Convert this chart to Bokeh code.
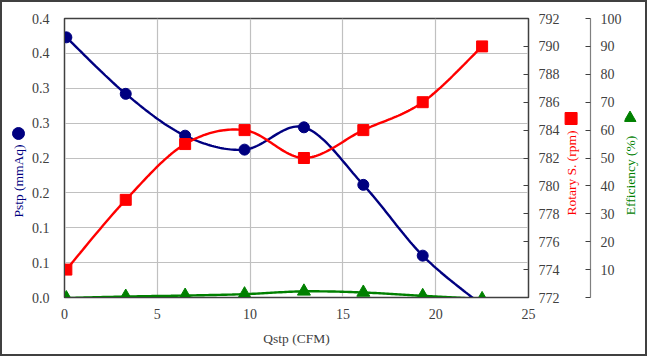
import numpy as np
from bokeh.plotting import figure
from bokeh.layouts import row
from bokeh.models import Range1d, LinearAxis, FixedTicker
from bokeh.core.properties import value
from bokeh.embed import file_html
from bokeh.resources import INLINE

# ---- data ----
qstp = [0.1, 3.3, 6.5, 9.7, 12.9, 16.1, 19.3, 22.5]
pstp = [0.373, 0.292, 0.232, 0.212, 0.244, 0.1615, 0.060, -0.011]
rpm = [774.0, 779.0, 783.0, 784.0, 782.0, 784.0, 786.0, 790.0]
eff = [-0.2, 0.35, 0.7, 1.2, 2.2, 1.8, 0.6, -0.5]

x_ticks = [0, 5, 10, 15, 20, 25]
p_ticks = [0.0, 0.05, 0.1, 0.15, 0.2, 0.25, 0.3, 0.35, 0.4]
p_tick_labels = ["0.0", "0.1", "0.1", "0.2", "0.2", "0.3", "0.3", "0.4", "0.4"]
rpm_ticks = [772, 774, 776, 778, 780, 782, 784, 786, 788, 790, 792]
eff_ticks = [0, 10, 20, 30, 40, 50, 60, 70, 80, 90, 100]
eff_tick_labels = ["", "10", "20", "30", "40", "50", "60", "70", "80", "90", "100"]

x_title = "Qstp (CFM)"
p_title = "Pstp (mmAq)"
rpm_title = "Rotary S. (rpm)"
eff_title = "Efficiency (%)"

FONT = "Liberation Serif"
TICK_COLOR = "#404040"
NAVY = "#000080"
RED = "#ff0000"
GREEN = "#008000"

# ---- layout constants (pixels) ----
H = 352
TOP = 16
BOT = 57
FH = H - TOP - BOT          # frame height


def smooth(xs, ys, n=30):
    """Bezier (Catmull-Rom style) smoothing through the given points."""
    x = np.asarray(xs, float)
    y = np.asarray(ys, float)
    px = np.concatenate([[x[0]], x, [x[-1]]])
    py = np.concatenate([[y[0]], y, [y[-1]]])
    t = np.linspace(0.0, 1.0, n)
    ox, oy = [], []
    for i in range(len(x) - 1):
        x0, x1, x2, x3 = px[i], px[i + 1], px[i + 2], px[i + 3]
        y0, y1, y2, y3 = py[i], py[i + 1], py[i + 2], py[i + 3]
        c1x, c1y = x1 + (x2 - x0) / 6.0, y1 + (y2 - y0) / 6.0
        c2x, c2y = x2 - (x3 - x1) / 6.0, y2 - (y3 - y1) / 6.0
        a = (1 - t) ** 3
        b = 3 * (1 - t) ** 2 * t
        c = 3 * (1 - t) * t ** 2
        d = t ** 3
        seg_x = a * x1 + b * c1x + c * c2x + d * x2
        seg_y = a * y1 + b * c1y + c * c2y + d * y2
        if i > 0:
            seg_x, seg_y = seg_x[1:], seg_y[1:]
        ox.extend(seg_x.tolist())
        oy.extend(seg_y.tolist())
    return ox, oy


def style_axis(ax, standoff, tick_in):
    ax.major_label_text_font = FONT
    ax.major_label_text_font_size = "14px"
    ax.major_label_text_color = TICK_COLOR
    ax.major_label_standoff = standoff
    ax.major_tick_in = tick_in
    ax.major_tick_out = 0
    ax.major_tick_line_color = "#404040"
    ax.minor_tick_line_color = None
    ax.axis_line_color = "#404040"
    ax.axis_label_text_font = FONT
    ax.axis_label_text_font_size = "13.5px"
    ax.axis_label_text_font_style = "normal"


def side_fig(width, border_right=0):
    """Narrow panel (same frame height as the chart) holding an axis title and its symbol."""
    f = figure(width=width, height=H, output_backend="svg", toolbar_location=None,
               x_range=Range1d(0, width - border_right), y_range=Range1d(0, FH),
               x_axis_location=None, y_axis_location=None,
               min_border_left=0, min_border_right=border_right,
               min_border_top=TOP, min_border_bottom=BOT)
    for g in f.grid:
        g.visible = False
    f.outline_line_color = None
    f.background_fill_color = "white"
    f.border_fill_color = "white"
    return f


def side_title(f, x, y, text, color):
    f.text(x=[x], y=[y], text=[text], angle=np.pi / 2, text_align="center",
           text_baseline="middle", text_font=value(FONT), text_font_size="13.5px",
           text_color=color)


# ---------------- main chart ----------------
p = figure(width=534, height=H, output_backend="svg", toolbar_location=None,
           x_range=Range1d(0, 25), y_range=Range1d(0, 0.4))
p.min_border_left = 35
p.min_border_right = 32
p.min_border_top = TOP
p.min_border_bottom = BOT
p.background_fill_color = "white"
p.border_fill_color = "white"
p.outline_line_color = "#404040"
p.outline_line_width = 1.5
p.extra_y_ranges = {"rpm": Range1d(772, 792), "eff": Range1d(0, 100)}

p.xgrid.ticker = FixedTicker(ticks=x_ticks)
p.ygrid.ticker = FixedTicker(ticks=p_ticks)
for g in (p.xgrid[0], p.ygrid[0]):
    g.grid_line_color = "#c0c0c0"
    g.grid_line_width = 1.2

xa = p.xaxis[0]
xa.ticker = FixedTicker(ticks=x_ticks)
style_axis(xa, 11, 0)
xa.axis_label = x_title
xa.axis_label_text_color = TICK_COLOR
xa.axis_label_standoff = 9

ya = p.yaxis[0]
ya.ticker = FixedTicker(ticks=p_ticks)
ya.major_label_overrides = {t: s for t, s in zip(p_ticks, p_tick_labels)}
style_axis(ya, 15, 0)

ra = LinearAxis(y_range_name="rpm", ticker=FixedTicker(ticks=rpm_ticks))
style_axis(ra, 10, 5)
p.add_layout(ra, "right")

sx, sy = smooth(qstp, pstp)
p.line(sx, sy, line_color=NAVY, line_width=2.4)
p.scatter(qstp, pstp, marker="circle", size=11, fill_color=NAVY, line_color=NAVY)

sx, sy = smooth(qstp, rpm)
p.line(sx, sy, line_color=RED, line_width=2.4, y_range_name="rpm")
p.scatter(qstp, rpm, marker="square", size=11, fill_color=RED, line_color=RED,
          y_range_name="rpm")

sx, sy = smooth(qstp, eff)
p.line(sx, sy, line_color=GREEN, line_width=2.4, y_range_name="eff")
p.scatter(qstp, eff, marker="triangle", size=13, fill_color=GREEN, line_color=GREEN,
          y_range_name="eff")

# ---------------- left title panel ----------------
fl = side_fig(26)
side_title(fl, 16, 116.5, p_title, NAVY)
fl.scatter([16], [164], marker="circle", size=12, fill_color=NAVY, line_color=NAVY)

# ---------------- rpm title panel + efficiency axis ----------------
fr = side_fig(62, border_right=31)
fr.extra_y_ranges = {"eff": Range1d(0, 100)}
side_title(fr, 10.5, 124.5, rpm_title, RED)
fr.scatter([9.5], [179], marker="square", size=12, fill_color=RED, line_color=RED)
ea = LinearAxis(y_range_name="eff", ticker=FixedTicker(ticks=eff_ticks))
ea.major_label_overrides = {t: s for t, s in zip(eff_ticks, eff_tick_labels)}
style_axis(ea, 10, 5)
ea.axis_line_color = "#808080"
ea.axis_line_width = 1.2
fr.add_layout(ea, "right")

# ---------------- efficiency title panel ----------------
fe = side_fig(21)
side_title(fe, 5.5, 122, eff_title, GREEN)
fe.scatter([5.5], [179.5], marker="triangle", size=12, fill_color=GREEN, line_color=GREEN)

layout = row(fl, p, fr, fe)
layout.styles = {"border": "2px solid #404040"}

open("out.html", "w").write(file_html(layout, INLINE))
